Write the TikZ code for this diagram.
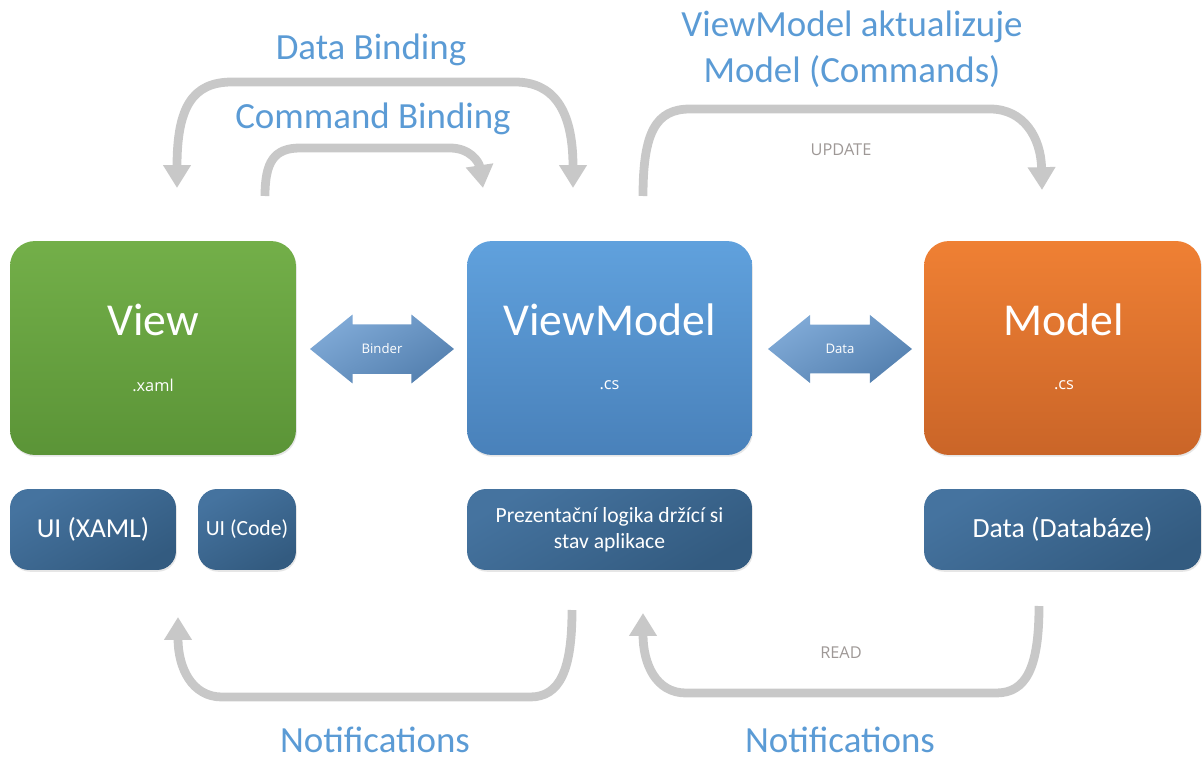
\documentclass[tikz,border=0pt]{standalone}
\usepackage{fontspec}
\setmainfont{Carlito}
\newfontfamily\smallsans{Open Sans}
\usetikzlibrary{arrows.meta,shapes.arrows,shadows}

\definecolor{viewgreenA}{HTML}{73AF49}
\definecolor{viewgreenB}{HTML}{5B9437}
\definecolor{vmblueA}{HTML}{60A1DD}
\definecolor{vmblueB}{HTML}{4981BA}
\definecolor{modelorA}{HTML}{EF8034}
\definecolor{modelorB}{HTML}{CA6528}
\definecolor{darkblueA}{HTML}{45739F}
\definecolor{darkblueB}{HTML}{335B80}
\definecolor{arrowblueA}{HTML}{80AAD7}
\definecolor{arrowblueB}{HTML}{5480AF}
\definecolor{labelblue}{HTML}{5B9BD5}
\definecolor{curvegray}{HTML}{C8C8C8}
\definecolor{textgray}{HTML}{9E9896}

\begin{document}
\begin{tikzpicture}[x=0.02cm, y=-0.02cm,
  bigbox/.style = {rounded corners=0.5cm, minimum height=4.28cm, shading angle=30,
    drop shadow={opacity=0.2, shadow xshift=0.5pt, shadow yshift=-1pt}},
  smallbox/.style = {rounded corners=0.38cm, minimum height=1.62cm, align=center,
    text=white, top color=darkblueA, bottom color=darkblueB, shading angle=30,
    drop shadow={opacity=0.2, shadow xshift=0.5pt, shadow yshift=-1pt}},
  blockarrow/.style = {double arrow, double arrow tip angle=78, double arrow head extend=5.5pt,
    minimum height=2.88cm, inner ysep=11pt, inner xsep=2pt, text=white,
    top color=arrowblueA, bottom color=arrowblueB, shading angle=30,
    font=\smallsans\fontsize{7.5}{9}\selectfont},
  title/.style = {text=white, font=\fontsize{26}{30}\selectfont},
  sub/.style = {text=white, font=\smallsans\fontsize{9.3}{11}\selectfont},
  caption/.style = {text=labelblue, font=\fontsize{21}{25}\selectfont, align=center},
  bottomcaption/.style = {caption, anchor=base, inner sep=0pt, text depth=0pt},
  note/.style = {text=textgray, font=\smallsans\fontsize{9.3}{11}\selectfont},
  curve/.style = {draw=curvegray, line width=5pt},
  tip/.style = {-{Triangle[length=13pt, width=15pt]}}]

\useasboundingbox (0,0) rectangle (1202,760);

%% main boxes
\node[bigbox, minimum width=5.72cm, top color=viewgreenA, bottom color=viewgreenB] (view) at (153,348) {};
\node[bigbox, minimum width=5.70cm, top color=vmblueA, bottom color=vmblueB] (viewmodel) at (609.5,348) {};
\node[bigbox, minimum width=5.54cm, top color=modelorA, bottom color=modelorB] (model) at (1062.5,348) {};

\node[title] (viewname) at (153,320) {View};
\node[sub] (viewfile) at (153,385) {.xaml};
\node[title] (vmname) at (609.5,320) {ViewModel};
\node[sub] (vmfile) at (609.5,385) {.cs};
\node[title] (modelname) at (1064,320) {Model};
\node[sub] (modelfile) at (1064,385) {.cs};

%% lower boxes
\node[smallbox, minimum width=3.32cm, font=\fontsize{15.6}{18}\selectfont] (uixaml) at (93,529.5) {UI (XAML)};
\node[smallbox, minimum width=1.96cm, font=\fontsize{12.3}{15}\selectfont] (uicode) at (247,529.5) {UI (Code)};
\node[smallbox, minimum width=5.70cm, font=\fontsize{12.3}{14.7}\selectfont] (logic) at (609.5,529.5) {Prezentační logika držící si\\stav aplikace};
\node[smallbox, minimum width=5.54cm, font=\fontsize{15.8}{18}\selectfont] (data) at (1062.5,529.5) {Data (Databáze)};

%% block arrows
\node[blockarrow] (binder) at (382,349) {Binder};
\node[blockarrow] (dataarrow) at (840,349) {Data};

%% end points of the curved arrows
\coordinate (dbL) at (177,188);
\coordinate (dbR) at (573,188);
\coordinate (cbS) at (265,196);
\coordinate (cbE) at (483,188);
\coordinate (upS) at (643,196);
\coordinate (upE) at (1042,190);
\coordinate (nlS) at (572,610);
\coordinate (nlE) at (178,617);
\coordinate (nrS) at (1039,606);
\coordinate (nrE) at (643,613);

%%% curved arrows
\draw[curve, {Triangle[length=13pt, width=15pt]}-{Triangle[length=13pt, width=15pt]}]
  (dbL) .. controls (177,108) and (192,82) .. (232,82) -- (515,82)
  .. controls (552,82) and (573,108) .. (dbR);
\draw[curve, tip] (cbS) .. controls (265,162) and (274,148) .. (300,148) -- (450,148)
  .. controls (470,148) and (479,162) .. (cbE);
\draw[curve, tip] (upS) .. controls (643,132) and (656,109) .. (690,109) -- (990,109)
  .. controls (1024,109) and (1041,138) .. (upE);
\draw[curve, tip] (nlS) .. controls (572,670) and (560,697) .. (530,697) -- (222,697)
  .. controls (192,697) and (178,668) .. (nlE);
\draw[curve, tip] (nrS) .. controls (1039,668) and (1026,693) .. (996,693) -- (686,693)
  .. controls (656,693) and (643,664) .. (nrE);

%% labels
\node[caption] (databinding) at (371,50) {Data Binding};
\node[caption] (commandbinding) at (373,119) {Command Binding};
\node[caption] (vmupdates) at (852,27) {ViewModel aktualizuje};
\node[caption] (vmcommands) at (852,72) {Model (Commands)};
\node[note] (update) at (841,150) {UPDATE};
\node[note] (read) at (841,653) {READ};
\node[bottomcaption] (notifL) at (375,752) {Notifications};
\node[bottomcaption] (notifR) at (840,752) {Notifications};

\end{tikzpicture}
\end{document}
